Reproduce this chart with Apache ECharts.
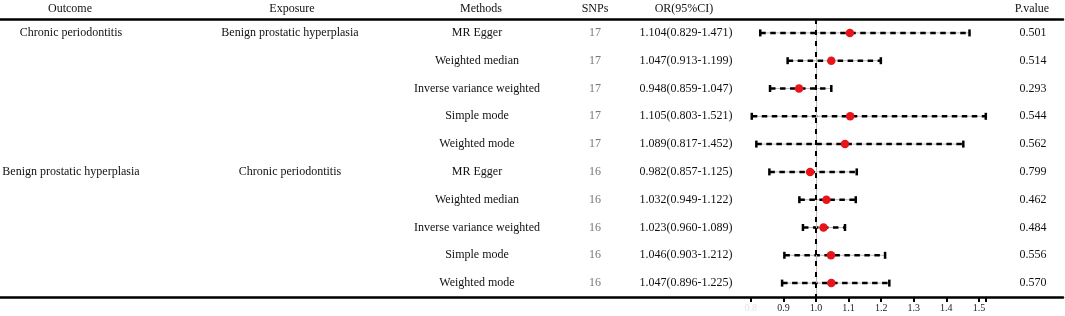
<!DOCTYPE html>
<html>
<head>
<meta charset="utf-8">
<script src="https://cdn.jsdelivr.net/npm/echarts@6/dist/echarts.min.js"></script>
<style>
  html, body { margin: 0; padding: 0; background: #fff; }
  #chart { width: 1065px; height: 316px; }
</style>
</head>
<body>
<div id="chart"></div>
<script>
// table data
const headers = ['Outcome', 'Exposure', 'Methods', 'SNPs', 'OR(95%CI)', 'P.value']
const outcomes = ['Chronic periodontitis', '', '', '', '', 'Benign prostatic hyperplasia', '', '', '', '']
const exposures = ['Benign prostatic hyperplasia', '', '', '', '', 'Chronic periodontitis', '', '', '', '']
const methods = ['MR Egger', 'Weighted median', 'Inverse variance weighted', 'Simple mode', 'Weighted mode',
  'MR Egger', 'Weighted median', 'Inverse variance weighted', 'Simple mode', 'Weighted mode']
const snps = [17, 17, 17, 17, 17, 16, 16, 16, 16, 16]
const orValues = [1.104, 1.047, 0.948, 1.105, 1.089, 0.982, 1.032, 1.023, 1.046, 1.047]
const ciLower = [0.829, 0.913, 0.859, 0.803, 0.817, 0.857, 0.949, 0.960, 0.903, 0.896]
const ciUpper = [1.471, 1.199, 1.047, 1.521, 1.452, 1.125, 1.122, 1.089, 1.212, 1.225]
const pValues = ['0.501', '0.514', '0.293', '0.544', '0.562', '0.799', '0.462', '0.484', '0.556', '0.570']

// forest axis
const axisMin = 0.8
const axisMax = 1.521
const axisInterval = 0.1
const refValue = 1

// layout (pixel centres of the table columns)
const colX = [71, 290, 477, 595, 686, 1033]
const headerX = [70, 292, 481, 595, 684, 1032]

const FONT = '"Liberation Serif", "Times New Roman", serif'
const rows = methods.map((m, i) => i)
const rowNames = rows.map(i => 'r' + i)
const orText = orValues.map((v, i) => `${v.toFixed(3)}(${ciLower[i].toFixed(3)}-${ciUpper[i].toFixed(3)})`)

const columns = [
  { texts: outcomes, color: '#111' },
  { texts: exposures, color: '#111' },
  { texts: methods, color: '#111' },
  { texts: snps.map(String), color: '#777' },
  { texts: orText, color: '#111' },
  { texts: pValues, color: '#111' }
]

const textSeries = columns.map((col, c) => ({
  type: 'custom',
  xAxisIndex: 0,
  yAxisIndex: 0,
  silent: true,
  data: rows.map(i => [colX[c], i]),
  renderItem: (params, api) => {
    const p = api.coord([api.value(0), api.value(1)])
    return {
      type: 'text',
      x: p[0],
      y: p[1],
      style: {
        text: col.texts[params.dataIndex],
        fill: col.color,
        fontSize: 12,
        fontFamily: FONT,
        align: 'center',
        verticalAlign: 'middle',
        textAlign: 'center',
        textVerticalAlign: 'middle'
      }
    }
  }
}))

// confidence intervals: thin grey line, black dashes on top, end caps
const forestSeries = {
  type: 'custom',
  xAxisIndex: 2,
  yAxisIndex: 1,
  silent: true,
  z: 3,
  data: rows.map(i => [ciLower[i], i, ciUpper[i]]),
  renderItem: (params, api) => {
    const a = api.coord([api.value(0), api.value(1)])
    const b = api.coord([api.value(2), api.value(1)])
    const cap = 3.5
    return {
      type: 'group',
      children: [
        { type: 'line', shape: { x1: a[0], y1: a[1], x2: b[0], y2: b[1] }, style: { stroke: '#bbb', lineWidth: 1 } },
        { type: 'line', shape: { x1: a[0], y1: a[1], x2: b[0], y2: b[1] }, style: { stroke: '#000', lineWidth: 2.5, lineDash: [5.5, 4.5] } },
        { type: 'line', shape: { x1: a[0], y1: a[1] - cap, x2: a[0], y2: a[1] + cap }, style: { stroke: '#000', lineWidth: 2.5 } },
        { type: 'line', shape: { x1: b[0], y1: b[1] - cap, x2: b[0], y2: b[1] + cap }, style: { stroke: '#000', lineWidth: 2.5 } }
      ]
    }
  }
}

const pointSeries = {
  type: 'scatter',
  xAxisIndex: 2,
  yAxisIndex: 1,
  silent: true,
  z: 5,
  symbol: 'circle',
  symbolSize: 8.5,
  itemStyle: { color: '#e8141a', opacity: 1 },
  data: rows.map(i => [orValues[i], i]),
  markLine: {
    silent: true,
    symbol: 'none',
    label: { show: false },
    data: [
      { xAxis: refValue, lineStyle: { color: '#bbb', width: 1, type: 'solid' } },
      { xAxis: refValue, lineStyle: { color: '#000', width: 2, type: [5, 6] } }
    ]
  }
}

const chart = echarts.init(document.getElementById('chart'))

const lineAxis = (pos) => ({
  gridIndex: 0,
  type: 'value',
  min: 0,
  max: 1063,
  position: pos,
  axisLine: { show: true, onZero: false, lineStyle: { color: '#000', width: 2.5 } },
  axisTick: { show: false },
  axisLabel: { show: false },
  splitLine: { show: false }
})

chart.setOption({
  animation: false,
  backgroundColor: '#fff',
  textStyle: { fontFamily: FONT },
  grid: [
    { left: 0, right: 2, top: 19, bottom: 19 },
    { left: 750.8, right: 79.2, top: 19, bottom: 19 }
  ],
  xAxis: [
    lineAxis('top'),
    lineAxis('bottom'),
    {
      gridIndex: 1,
      type: 'value',
      min: axisMin,
      max: axisMax,
      interval: axisInterval,
      position: 'bottom',
      axisLine: { show: false },
      axisTick: { show: true, length: 5, lineStyle: { color: '#000', width: 2 } },
      axisLabel: {
        margin: 6,
        fontSize: 10,
        fontFamily: FONT,
        color: '#222',
        showMinLabel: true,
        showMaxLabel: true,
        formatter: v => {
          const k = v / axisInterval
          if (Math.abs(k - Math.round(k)) > 1e-6) return ''
          if (Math.abs(v - axisMin) < 1e-6) return '{f|' + v.toFixed(1) + '}'
          return v.toFixed(1)
        },
        rich: { f: { color: '#e4e4e4', fontSize: 10, fontFamily: FONT } }
      },
      splitLine: { show: false }
    }
  ],
  yAxis: [
    { gridIndex: 0, type: 'category', data: rowNames, inverse: true, show: false },
    { gridIndex: 1, type: 'category', data: rowNames, inverse: true, show: false }
  ],
  graphic: headers.map((h, c) => ({
    type: 'text',
    x: headerX[c],
    y: 9,
    silent: true,
    style: {
      text: h,
      fill: '#111',
      fontSize: 12,
      fontFamily: FONT,
      align: 'center',
      verticalAlign: 'middle',
      textAlign: 'center',
      textVerticalAlign: 'middle'
    }
  })),
  series: [...textSeries, forestSeries, pointSeries]
})
</script>
</body>
</html>
